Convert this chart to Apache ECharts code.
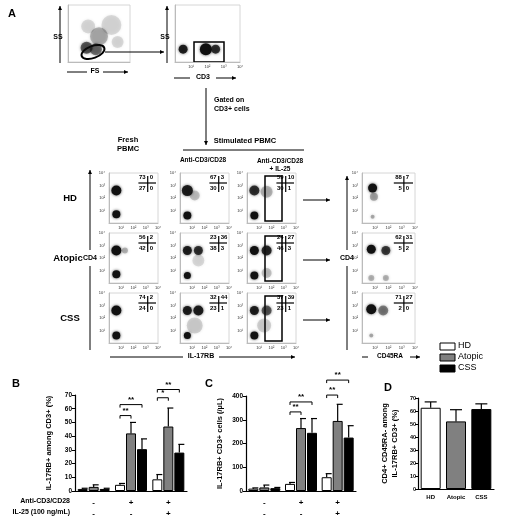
<!DOCTYPE html>
<html><head><meta charset="utf-8">
<script src="https://cdn.jsdelivr.net/npm/echarts@6/dist/echarts.min.js"></script>
<style>html,body{margin:0;background:#fff}#c{width:520px;height:520px}</style>
</head><body><div id="c"></div>
<script>
// ---------- DATA ----------
const groups = ['HD','Atopic','CSS'];
const stimLabels = ['-','+','+'];
const il25Labels = ['-','-','+'];
const bPct = {HD:[1.5,4.5,8.5], Atopic:[3,42,47], CSS:[1.5,30.5,28]};
const bPctErr = {HD:[0.5,1,3.5], Atopic:[1.5,8,13.5], CSS:[0.5,7.5,6]};
const cAbs = {HD:[10,30,58], Atopic:[15,265,295], CSS:[12,245,225]};
const cAbsErr = {HD:[3,6,15], Atopic:[10,40,70], CSS:[3,60,50]};
const dVals = [62.5,52,61.5];
const dErr = [4.5,9,4];
// significance [category, barA, barB, value, label]
const bSig = [[1,0,1,55,'**'],[1,0,2,63,'**'],[2,0,1,68,'*'],[2,0,2,74,'**']];
const cSig = [[1,0,1,333,'**'],[1,0,2,375,'**'],[2,0,1,404,'**'],[2,0,2,467,'**']];
// quadrant percentages [UL,UR,LL,LR] per row (HD, Atopic, CSS) per column
const quad = [
 [[73,0,27,0],[67,3,30,0],[59,10,30,1],[88,7,5,0]],
 [[56,2,42,0],[23,36,38,3],[24,27,46,3],[62,31,5,2]],
 [[74,2,24,0],[32,44,23,1],[37,39,23,1],[71,27,2,0]]
];
// cell clusters [x(log), y(log), size, opacity] per plot
const clusters = [
 [[[0.6,2.6,10,1],[0.6,0.7,8,1]], [[0.6,2.6,11,.9],[1.2,2.2,10,.2],[0.6,0.6,8,1]], [[0.6,2.6,10,.8],[1.6,2.5,12,.25],[0.6,0.6,8,1]], [[0.8,2.8,9,1],[0.9,2.1,8,.3],[0.8,0.5,4,.3]]],
 [[[0.6,2.6,10,1],[1.3,2.6,6,.25],[0.6,0.7,8,1]], [[0.6,2.6,9,.9],[1.5,2.6,9,.8],[1.5,1.8,12,.12],[0.6,0.6,7,1]], [[0.6,2.6,9,1],[1.6,2.6,10,.85],[1.6,0.8,10,.2],[0.6,0.6,8,1]], [[0.7,2.7,9,1],[1.8,2.6,9,.75],[1.8,0.4,6,.25],[0.7,0.4,6,.25]]],
 [[[0.6,2.6,10,1],[0.6,0.6,8,1]], [[0.6,2.6,9,.9],[1.5,2.6,10,.9],[1.2,1.4,16,.15],[0.6,0.6,7,1]], [[0.6,2.6,9,.9],[1.6,2.6,10,.6],[1.4,1.4,14,.15],[0.6,0.6,8,1]], [[0.7,2.7,10,1],[1.6,2.6,10,.45],[0.7,0.6,4,.3]]]
];
const fsCluster = [[1.2,1.0,12,.6],[2.0,1.8,18,.25],[2.8,2.6,20,.12],[1.8,0.9,12,.5],[3.2,1.4,12,.12],[1.3,2.5,14,.12]];
const cd3Cluster = [[0.5,0.9,9,.9],[1.9,0.9,12,1],[2.5,0.9,9,.8]];
const tickLabels = ['10⁰','10¹','10²','10³','10⁴'];

// ---------- LAYOUT ----------
const colL = [109,180,247,362], colW = [49,49,49,53];
const rowT = [173,233,293], rowH = 50;
const grids=[], xAxes=[], yAxes=[], series=[], graphic=[];
function flowPlot(box, pts){
  const gi = grids.length;
  grids.push({left:box[0], top:box[1], width:box[2], height:box[3], containLabel:false});
  const ax = {type:'value', min:0, max:4, interval:1, gridIndex:gi,
    axisLine:{show:true, lineStyle:{color:'#bbb'}}, axisTick:{show:false}, splitLine:{show:false},
    axisLabel:{show:true, fontSize:4, color:'#333', margin:3, formatter:v=>v>=1?tickLabels[v]:''}};
  xAxes.push(Object.assign({},ax));
  yAxes.push(Object.assign({},ax,{axisLabel:{fontSize:4,color:'#333',margin:4,formatter:v=>v>=1?tickLabels[v]:''}}));
  series.push({type:'scatter', xAxisIndex:gi, yAxisIndex:gi, silent:true,
    data:pts.map(p=>({value:[p[0],p[1]], symbolSize:p[2], itemStyle:{opacity:p[3]}})),
    itemStyle:{color:'#111', shadowBlur:3, shadowColor:'rgba(0,0,0,0.7)'}});
  graphic.push({type:'rect', shape:{x:box[0],y:box[1],width:box[2],height:box[3]}, style:{fill:'none',stroke:'#ccc',lineWidth:0.8}});
}
const T = (x,y,t,o={}) => graphic.push({type:'text', x, y, style:Object.assign({text:t, fontSize:8, fontWeight:'bold', fill:'#000', fontFamily:'Liberation Sans, Arial'},o)});
const L = (x1,y1,x2,y2,w=1) => graphic.push({type:'line', shape:{x1,y1,x2,y2}, style:{stroke:'#000',lineWidth:w}});
const A = (x1,y1,x2,y2) => { L(x1,y1,x2,y2,1);
  const ang=Math.atan2(y2-y1,x2-x1), s=4;
  graphic.push({type:'polygon', shape:{points:[[x2,y2],[x2-s*Math.cos(ang)+s*0.5*Math.sin(ang),y2-s*Math.sin(ang)-s*0.5*Math.cos(ang)],[x2-s*Math.cos(ang)-s*0.5*Math.sin(ang),y2-s*Math.sin(ang)+s*0.5*Math.cos(ang)]]}, style:{fill:'#000'}});};

// Top plots
flowPlot([68,5,62,57], fsCluster);
flowPlot([175,5,65,57], cd3Cluster);
xAxes[0].axisLabel.show=false; yAxes[0].axisLabel.show=false; yAxes[1].axisLabel.show=false;
graphic.push({type:'ellipse', shape:{cx:93,cy:52,rx:12,ry:6}, rotation:0.35, originX:93, originY:52, style:{fill:'none',stroke:'#000',lineWidth:2}});
graphic.push({type:'rect', shape:{x:194,y:42,width:30,height:20}, style:{fill:'none',stroke:'#000',lineWidth:1.5}});
A(105,52,164,52);
T(8,8,'A',{fontSize:11});
A(60,63,60,6); T(58,34,'SS',{rotation:-Math.PI/2, fontSize:7, textAlign:'center'});
A(167,63,167,6); T(165,34,'SS',{rotation:-Math.PI/2, fontSize:7, textAlign:'center'});
L(67,72,87,72); A(103,72,128,72); T(95,68,'FS',{fontSize:7,textAlign:'center'});
L(174,78,190,78); A(216,78,236,78); T(203,74,'CD3',{fontSize:7,textAlign:'center'});
A(206,88,206,145); T(214,96,'Gated on\nCD3+ cells',{fontSize:7, lineHeight:9});

// Flow matrix
for(let r=0;r<3;r++) for(let c=0;c<4;c++){
  const box=[colL[c],rowT[r],colW[c],rowH];
  flowPlot(box, clusters[r][c]);
  const q=quad[r][c], cx=box[0]+box[2]*0.79, cy=box[1]+box[3]*0.2;
  L(box[0]+box[2]*0.6,cy,box[0]+box[2]-2,cy,1.2); L(cx,box[1]+3,cx,box[1]+box[3]*0.38,1.2);
  T(cx-2,cy-9,String(q[0]),{fontSize:6,textAlign:'right'}); T(cx+2,cy-9,String(q[1]),{fontSize:6});
  T(cx-2,cy+2,String(q[2]),{fontSize:6,textAlign:'right'}); T(cx+2,cy+2,String(q[3]),{fontSize:6});
  if(c===2){ graphic.push({type:'rect', shape:{x:box[0]+18,y:box[1]+3,width:17,height:box[3]-5}, style:{fill:'none',stroke:'#000',lineWidth:1.5}});
    A(box[0]+box[2]+7, box[1]+27, 330, box[1]+27); }
}
T(128,135,'Fresh\nPBMC',{fontSize:7.5,textAlign:'center',lineHeight:9});
T(245,137,'Stimulated PBMC',{fontSize:7.5,textAlign:'center'}); L(183,150,304,150,1);
T(203,157,'Anti-CD3/CD28',{fontSize:6.5,textAlign:'center'});
T(280,157,'Anti-CD3/CD28\n+ IL-25',{fontSize:6.5,textAlign:'center',lineHeight:8});
T(70,193,'HD',{fontSize:9.5,textAlign:'center'}); T(68,253,'Atopic',{fontSize:9.5,textAlign:'center'}); T(70,313,'CSS',{fontSize:9.5,textAlign:'center'});
A(90,350,90,170); graphic.push({type:'rect',shape:{x:85,y:250,width:10,height:16},style:{fill:'#fff'}}); T(90,258,'CD4',{fontSize:7,rotation:Math.PI/2,textAlign:'center',textVerticalAlign:'middle'});
A(110,357,295,357); graphic.push({type:'rect',shape:{x:183,y:352,width:36,height:10},style:{fill:'#fff'}}); T(201,353,'IL-17RB',{fontSize:7,textAlign:'center'});
A(347,350,347,176); graphic.push({type:'rect',shape:{x:342,y:250,width:10,height:16},style:{fill:'#fff'}}); T(347,258,'CD4',{fontSize:7,rotation:Math.PI/2,textAlign:'center',textVerticalAlign:'middle'});
L(362,357,368,357); A(410,357,420,357); T(390,353,'CD45RA',{fontSize:6.5,textAlign:'center'});

// legend
[['#fff','HD'],['#808080','Atopic'],['#000','CSS']].forEach((l,i)=>{
  graphic.push({type:'rect',shape:{x:440,y:343+i*11,width:15,height:7},style:{fill:l[0],stroke:'#000',lineWidth:1}});
  T(458,341+i*11,l[1],{fontSize:9,fontWeight:'normal'});
});
T(12,378,'B',{fontSize:11}); T(205,378,'C',{fontSize:11}); T(384,382,'D',{fontSize:11});
T(70,498,'Anti-CD3/CD28',{fontSize:7,textAlign:'right'}); T(70,509,'IL-25 (100 ng/mL)',{fontSize:7,textAlign:'right'});

// ---------- BAR CHARTS ----------
const colors = {HD:'#fff', Atopic:'#808080', CSS:'#000'};
const barW = 10, gapPx = 1;
function barChart(box, vals, errs, max, interval, yName, sig){
  const gi=grids.length;
  grids.push({left:box[0],top:box[1],width:box[2],height:box[3]});
  xAxes.push({type:'category', gridIndex:gi, data:[0,1,2],
    axisLine:{lineStyle:{color:'#000',width:1.2}}, axisTick:{show:false},
    axisLabel:{fontSize:8, fontWeight:'bold', color:'#000', lineHeight:11, margin:6, formatter:(v,i)=>stimLabels[i]+'\n'+il25Labels[i]}});
  yAxes.push({type:'value', gridIndex:gi, min:0, max, interval,
    name:yName, nameLocation:'middle', nameGap:22, nameTextStyle:{fontSize:7.5, fontWeight:'bold', color:'#000'},
    axisLine:{show:true,lineStyle:{color:'#000',width:1.2}}, axisTick:{show:true, length:3}, splitLine:{show:false},
    axisLabel:{fontSize:6.5, fontWeight:'bold', color:'#000', margin:3}});
  groups.forEach((g,k)=>{
    series.push({type:'bar', xAxisIndex:gi, yAxisIndex:gi, data:vals[g], barWidth:barW, barGap:'10%',
      itemStyle:{color:colors[g], borderColor:'#000', borderWidth:1}});
  });
  const errData=[]; groups.forEach((g,k)=>vals[g].forEach((v,i)=>errData.push([i,v,errs[g][i],k])));
  series.push({type:'custom', xAxisIndex:gi, yAxisIndex:gi, data:errData, z:1,
    renderItem:(p,api)=>{ const off=(api.value(3)-1)*(barW+gapPx);
      const a=api.coord([api.value(0),api.value(1)]), b=api.coord([api.value(0),api.value(1)+api.value(2)]);
      const x=a[0]+off;
      return {type:'group',children:[{type:'line',shape:{x1:x,y1:a[1],x2:x,y2:b[1]},style:{stroke:'#000',lineWidth:1.2}},
        {type:'line',shape:{x1:x-1,y1:b[1],x2:x+barW/2,y2:b[1]},style:{stroke:'#000',lineWidth:1.2}}]};}});
  series.push({type:'custom', xAxisIndex:gi, yAxisIndex:gi, data:sig, clip:false,
    renderItem:(p,api)=>{ const c=api.coord([api.value(0),api.value(3)]);
      const x1=c[0]+(api.value(1)-1)*(barW+gapPx), x2=c[0]+(api.value(2)-1)*(barW+gapPx), y=c[1];
      return {type:'group',children:[{type:'polyline',shape:{points:[[x1,y+3],[x1,y],[x2,y],[x2,y+3]]},style:{stroke:'#000',fill:'none',lineWidth:1}},
        {type:'text',style:{x:(x1+x2)/2,y:y-1,text:sig[p.dataIndex][4],fontSize:8,fontWeight:'bold',textAlign:'center',textVerticalAlign:'bottom'}}]};}});
}
barChart([75,395,112,96], bPct, bPctErr, 70, 10, 'IL-17RB+ among CD3+ (%)', bSig);
barChart([246,396,110,95], cAbs, cAbsErr, 400, 100, 'IL-17RB+ CD3+ cells (/µL)', cSig);

// D
(function(){
  const gi=grids.length;
  grids.push({left:418,top:398,width:76,height:91});
  xAxes.push({type:'category', gridIndex:gi, data:groups, axisLine:{lineStyle:{color:'#000',width:1.2}}, axisTick:{show:false},
    axisLabel:{fontSize:6,fontWeight:'bold',color:'#000',margin:5,interval:0}});
  yAxes.push({type:'value', gridIndex:gi, min:0, max:70, interval:10, name:'CD4+ CD45RA- among\nIL-17RB+ CD3+ (%)',
    nameLocation:'middle', nameGap:18, nameTextStyle:{fontSize:7.5,fontWeight:'bold',color:'#000',lineHeight:10},
    axisLine:{show:true,lineStyle:{color:'#000',width:1.2}}, axisTick:{show:true,length:3}, splitLine:{show:false},
    axisLabel:{fontSize:5.5,fontWeight:'bold',color:'#000',margin:2}});
  series.push({type:'bar', xAxisIndex:gi, yAxisIndex:gi, barWidth:20,
    data:dVals.map((v,i)=>({value:v,itemStyle:{color:[colors.HD,colors.Atopic,colors.CSS][i]}})),
    itemStyle:{borderColor:'#000',borderWidth:1}});
  series.push({type:'custom', xAxisIndex:gi, yAxisIndex:gi, data:dVals.map((v,i)=>[i,v,dErr[i]]),
    renderItem:(p,api)=>{const a=api.coord([api.value(0),api.value(1)]), b=api.coord([api.value(0),api.value(1)+api.value(2)]);
      return {type:'group',children:[{type:'line',shape:{x1:a[0],y1:a[1],x2:a[0],y2:b[1]},style:{stroke:'#000',lineWidth:1.2}},
        {type:'line',shape:{x1:a[0]-6,y1:b[1],x2:a[0]+6,y2:b[1]},style:{stroke:'#000',lineWidth:1.2}}]};}});
})();

const chart=echarts.init(document.getElementById('c'));
chart.setOption({animation:false, grid:grids, xAxis:xAxes, yAxis:yAxes, series, graphic,
  textStyle:{fontFamily:'Liberation Sans, Arial'}});
</script></body></html>
